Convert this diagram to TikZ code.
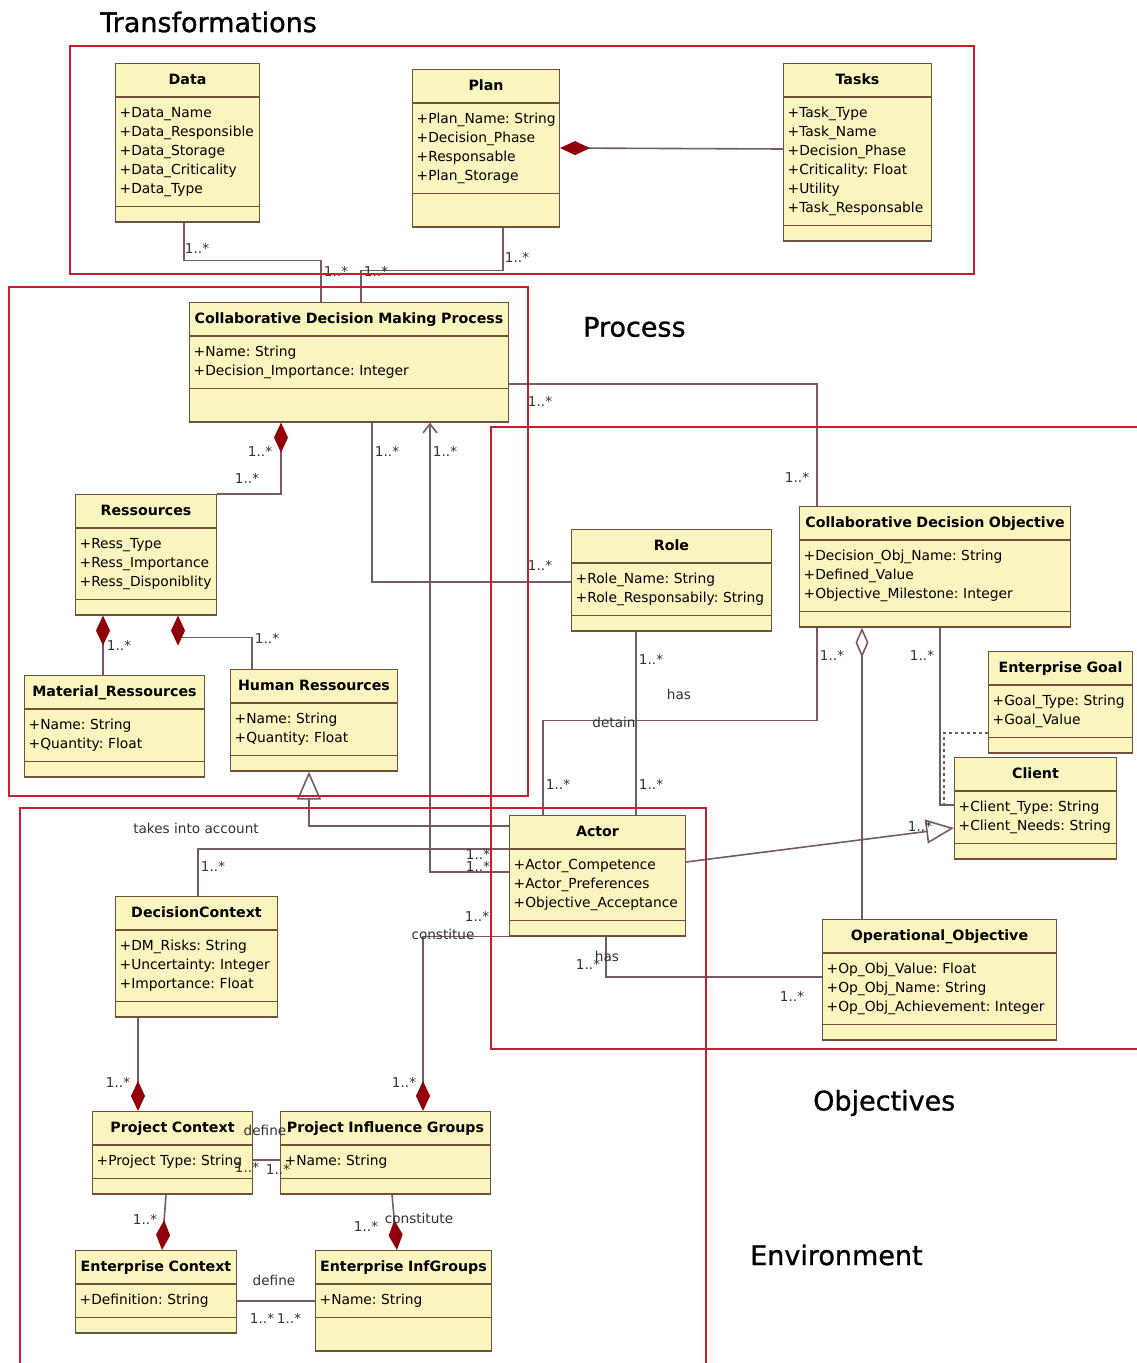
\documentclass[tikz,border=0pt]{standalone}
\usepackage{fontspec}
\setmainfont{DejaVu Sans}
\newfontfamily\headfont[FakeBold=1]{DejaVu Sans}
\usetikzlibrary{arrows.meta}
\usetikzlibrary{shapes.multipart}
\setlength{\parindent}{0pt}

\definecolor{boxfill}{RGB}{250,244,190}
\definecolor{boxline}{RGB}{115,80,60}
\definecolor{linkcol}{RGB}{120,90,100}
\definecolor{compred}{RGB}{145,0,10}
\definecolor{framered}{RGB}{200,30,45}
\definecolor{labelcol}{RGB}{50,50,50}

\begin{document}
\begin{tikzpicture}[x=1pt, y=-1pt,
  umlclass/.style={rectangle split, rectangle split parts=3, draw=boxline, fill=boxfill,
    line width=1.4pt, anchor=north west, align=left, inner xsep=4pt, inner ysep=6.5pt,
    font=\fontsize{13.8}{19}\selectfont},
  assoc/.style={draw=linkcol, line width=1.6pt},
  compo/.style={assoc, {Diamond[length=30pt,width=14pt,color=compred]}-},
  aggr/.style={assoc, {Diamond[length=30pt,width=13pt,fill=white]}-},
  gener/.style={assoc, -{Triangle[length=28pt,width=24pt,fill=white]}},
  nav/.style={assoc, -{Straight Barb[length=9pt,width=14pt]}},
  dotlink/.style={assoc, dash pattern=on 3pt off 3pt},
  mult/.style={font=\fontsize{13.6}{15}\selectfont, text=labelcol, inner sep=0pt},
  heading/.style={font=\headfont\fontsize{27}{30}\selectfont, anchor=west, inner sep=0pt},
  frame/.style={draw=framered, line width=1.3pt}]
\useasboundingbox (0,0) rectangle (1137,1363);

% package titles
\node[heading] (htrans) at (100,22) {Transformations};
\node[heading] (hproc) at (583,327) {Process};
\node[heading] (hobj) at (813,1103) {Objectives};
\node[heading] (henv) at (750,1255) {Environment};

% classes
\node[umlclass, text width=135.6pt] (data) at (115,63) {\makebox[\linewidth]{\fontsize{14.2}{19}\selectfont\bfseries Data\strut}
  \nodepart{two}\strut+Data\_Name\\+Data\_Responsible\\+Data\_Storage\\+Data\_Criticality\\+Data\_Type\strut
  \nodepart{three}\rule{0pt}{1pt}};
\node[umlclass, text width=138.6pt] (plan) at (412,69) {\makebox[\linewidth]{\fontsize{14.2}{19}\selectfont\bfseries Plan\strut}
  \nodepart{two}\strut+Plan\_Name:~String\\+Decision\_Phase\\+Responsable\\+Plan\_Storage\strut
  \nodepart{three}\rule{0pt}{19pt}};
\node[umlclass, text width=139.6pt] (tasks) at (783,63) {\makebox[\linewidth]{\fontsize{14.2}{19}\selectfont\bfseries Tasks\strut}
  \nodepart{two}\strut+Task\_Type\\+Task\_Name\\+Decision\_Phase\\+Criticality:~Float\\+Utility\\+Task\_Responsable\strut
  \nodepart{three}\rule{0pt}{1pt}};
\node[umlclass, text width=310.6pt] (cdmp) at (189,302) {\makebox[\linewidth]{\fontsize{14.2}{19}\selectfont\bfseries Collaborative Decision Making Process\strut}
  \nodepart{two}\strut+Name:~String\\+Decision\_Importance:~Integer\strut
  \nodepart{three}\rule{0pt}{19pt}};
\node[umlclass, text width=132.6pt] (ress) at (75,494) {\makebox[\linewidth]{\fontsize{14.2}{19}\selectfont\bfseries Ressources\strut}
  \nodepart{two}\strut+Ress\_Type\\+Ress\_Importance\\+Ress\_Disponiblity\strut
  \nodepart{three}\rule{0pt}{1pt}};
\node[umlclass, text width=171.6pt] (mat) at (24,675) {\makebox[\linewidth]{\fontsize{14.2}{19}\selectfont\bfseries Material\_Ressources\strut}
  \nodepart{two}\strut+Name:~String\\+Quantity:~Float\strut
  \nodepart{three}\rule{0pt}{1pt}};
\node[umlclass, text width=158.6pt] (hum) at (230,669) {\makebox[\linewidth]{\fontsize{14.2}{19}\selectfont\bfseries Human Ressources\strut}
  \nodepart{two}\strut+Name:~String\\+Quantity:~Float\strut
  \nodepart{three}\rule{0pt}{1pt}};
\node[umlclass, text width=191.6pt] (role) at (571,529) {\makebox[\linewidth]{\fontsize{14.2}{19}\selectfont\bfseries Role\strut}
  \nodepart{two}\strut+Role\_Name:~String\\+Role\_Responsabily:~String\strut
  \nodepart{three}\rule{0pt}{1pt}};
\node[umlclass, text width=262.6pt] (cdo) at (799,506) {\makebox[\linewidth]{\fontsize{14.2}{19}\selectfont\bfseries Collaborative Decision Objective\strut}
  \nodepart{two}\strut+Decision\_Obj\_Name:~String\\+Defined\_Value\\+Objective\_Milestone:~Integer\strut
  \nodepart{three}\rule{0pt}{1pt}};
\node[umlclass, text width=135.6pt] (goal) at (988,651) {\makebox[\linewidth]{\fontsize{14.2}{19}\selectfont\bfseries Enterprise Goal\strut}
  \nodepart{two}\strut+Goal\_Type:~String\\+Goal\_Value\strut
  \nodepart{three}\rule{0pt}{1pt}};
\node[umlclass, text width=153.6pt] (client) at (954,757) {\makebox[\linewidth]{\fontsize{14.2}{19}\selectfont\bfseries Client\strut}
  \nodepart{two}\strut+Client\_Type:~String\\+Client\_Needs:~String\strut
  \nodepart{three}\rule{0pt}{1pt}};
\node[umlclass, text width=167.6pt] (actor) at (509,815) {\makebox[\linewidth]{\fontsize{14.2}{19}\selectfont\bfseries Actor\strut}
  \nodepart{two}\strut+Actor\_Competence\\+Actor\_Preferences\\+Objective\_Acceptance\strut
  \nodepart{three}\rule{0pt}{1pt}};
\node[umlclass, text width=225.6pt] (opobj) at (822,919) {\makebox[\linewidth]{\fontsize{14.2}{19}\selectfont\bfseries Operational\_Objective\strut}
  \nodepart{two}\strut+Op\_Obj\_Value:~Float\\+Op\_Obj\_Name:~String\\+Op\_Obj\_Achievement:~Integer\strut
  \nodepart{three}\rule{0pt}{1pt}};
\node[umlclass, text width=153.6pt] (dctx) at (115,896) {\makebox[\linewidth]{\fontsize{14.2}{19}\selectfont\bfseries DecisionContext\strut}
  \nodepart{two}\strut+DM\_Risks:~String\\+Uncertainty:~Integer\\+Importance:~Float\strut
  \nodepart{three}\rule{0pt}{1pt}};
\node[umlclass, text width=151.6pt] (pctx) at (92,1111) {\makebox[\linewidth]{\fontsize{14.2}{19}\selectfont\bfseries Project Context\strut}
  \nodepart{two}\strut+Project~Type:~String\strut
  \nodepart{three}\rule{0pt}{1pt}};
\node[umlclass, text width=201.6pt] (pig) at (280,1111) {\makebox[\linewidth]{\fontsize{14.2}{19}\selectfont\bfseries Project Influence Groups\strut}
  \nodepart{two}\strut+Name:~String\strut
  \nodepart{three}\rule{0pt}{1pt}};
\node[umlclass, text width=152.6pt] (ectx) at (75,1250) {\makebox[\linewidth]{\fontsize{14.2}{19}\selectfont\bfseries Enterprise Context\strut}
  \nodepart{two}\strut+Definition:~String\strut
  \nodepart{three}\rule{0pt}{1pt}};
\node[umlclass, text width=167.6pt] (eig) at (315,1250) {\makebox[\linewidth]{\fontsize{14.2}{19}\selectfont\bfseries Enterprise InfGroups\strut}
  \nodepart{two}\strut+Name:~String\strut
  \nodepart{three}\rule{0pt}{19pt}};

% links
\draw[assoc] ([xshift=69pt]data.south west) -- ++(0,38) -| ([xshift=132pt]cdmp.north west);
\draw[assoc] ([xshift=91pt]plan.south west) -- ++(0,43) -| ([xshift=172pt]cdmp.north west);
\draw[compo] ([yshift=-79pt]plan.north east) -- ([yshift=-86pt]tasks.north west);
\draw[assoc] ([yshift=-82pt]cdmp.north east) -| ([xshift=18pt]cdo.north west);
\draw[compo] ([xshift=92pt]cdmp.south west) |- (ress.north east);
\draw[assoc] ([xshift=183pt]cdmp.south west) |- ([yshift=-53pt]role.north west);
\draw[nav] ([yshift=-57pt]actor.north west) -| ([xshift=241pt]cdmp.south west);
\draw[compo] ([xshift=28pt]ress.south west) -- ([xshift=79pt]mat.north west);
\draw[compo] ([xshift=103pt]ress.south west) -- ++(0,22) -| ([xshift=22pt]hum.north west);
\draw[assoc] ([xshift=65pt]role.south west) -- ([xshift=127pt]actor.north west);
\draw[assoc] ([xshift=18pt]cdo.south west) -- ++(0,93) -| ([xshift=34pt]actor.north west);
\draw[aggr] ([xshift=63pt]cdo.south west) -- ([xshift=40pt]opobj.north west);
\draw[assoc] ([xshift=141pt]cdo.south west) |- ([yshift=-48pt]client.north west);
\draw[dotlink] ([yshift=-82pt]goal.north west) -| ([xshift=-10pt,yshift=-48pt]client.north west);
\draw[gener] ([yshift=-47pt]actor.north east) -- ([yshift=-71pt]client.north west);
\draw[assoc] ([xshift=97pt]actor.south west) |- ([yshift=-58pt]opobj.north west);
\draw[gener] ([yshift=-11pt]actor.north west) -| ([xshift=79pt]hum.south west);
\draw[assoc] ([yshift=-34pt]actor.north west) -| ([xshift=83pt]dctx.north west);
\draw[compo] ([xshift=143pt]pig.north west) |- (actor.south west);
\draw[compo] ([xshift=46pt]pctx.north west) -- ([xshift=23pt]dctx.south west);
\draw[assoc] ([yshift=-49pt]pctx.north east) -- ([yshift=-49pt]pig.north west);
\draw[compo] ([xshift=87pt]ectx.north west) -- ([xshift=74pt]pctx.south west);
\draw[compo] ([xshift=82pt]eig.north west) -- ([xshift=112pt]pig.south west);
\draw[assoc] ([yshift=-51pt]ectx.north east) -- ([yshift=-51pt]eig.north west);

% multiplicities
\foreach \x/\y [count=\i] in {197/248, 336/271, 376/271, 517/257, 540/401, 797/477,
  260/451, 247/478, 387/451, 445/451, 540/565, 119/645, 267/638, 651/659, 558/784,
  651/784, 832/655, 922/655, 920/826, 588/964, 792/996, 213/866, 478/854, 478/866,
  477/916, 118/1082, 404/1082, 247/1167, 278/1169, 145/1219, 366/1226, 262/1318, 289/1318}
  \node[mult] (mult\i) at (\x,\y) {1..*};

% link names
\foreach \x/\y/\t [count=\i] in {679/694/has, 614/722/detain, 607/956/has,
  196/828/takes into account, 443/934/constitue, 265/1130/define,
  419/1218/constitute, 274/1280/define}
  \node[mult] (name\i) at (\x,\y) {\t};

% package frames
\draw[frame] (70,46) rectangle (974,274);
\draw[frame] (9,287) rectangle (528,796);
\draw[frame] (491,427) rectangle (1150,1049);
\draw[frame] (20,808) rectangle (706,1380);
\end{tikzpicture}
\end{document}
